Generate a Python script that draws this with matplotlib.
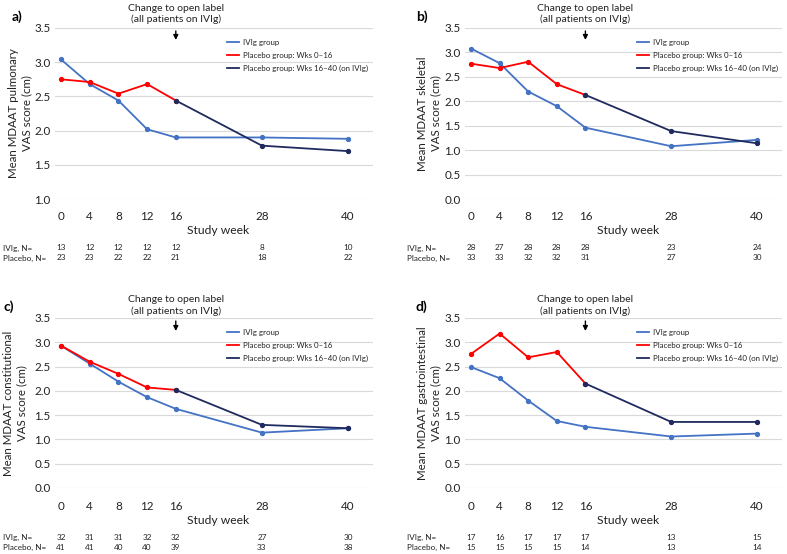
import matplotlib
matplotlib.use("Agg")
import matplotlib.pyplot as plt

plt.rcParams['font.family'] = ['Lato', 'DejaVu Sans']

weeks = [0, 4, 8, 12, 16, 28, 40]
weeks_pbo = [0, 4, 8, 12, 16]
weeks_ol = [16, 28, 40]

# Panel a: pulmonary
a_ivig = [3.04, 2.68, 2.44, 2.02, 1.90, 1.90, 1.88]
a_pbo = [2.75, 2.71, 2.54, 2.68, 2.44]
a_ol = [2.44, 1.78, 1.70]
a_n_ivig = ["13", "12", "12", "12", "12", "8", "10"]
a_n_pbo = ["23", "23", "22", "22", "21", "18", "22"]

# Panel b: skeletal
b_ivig = [3.08, 2.78, 2.20, 1.90, 1.46, 1.08, 1.21]
b_pbo = [2.77, 2.68, 2.81, 2.35, 2.13]
b_ol = [2.13, 1.39, 1.14]
b_n_ivig = ["28", "27", "28", "28", "28", "23", "24"]
b_n_pbo = ["33", "33", "32", "32", "31", "27", "30"]

# Panel c: constitutional
c_ivig = [2.93, 2.56, 2.19, 1.87, 1.63, 1.14, 1.23]
c_pbo = [2.93, 2.60, 2.35, 2.07, 2.02]
c_ol = [2.02, 1.30, 1.23]
c_n_ivig = ["32", "31", "31", "32", "32", "27", "30"]
c_n_pbo = ["41", "41", "40", "40", "39", "33", "38"]

# Panel d: gastrointestinal
d_ivig = [2.49, 2.26, 1.80, 1.38, 1.26, 1.06, 1.12]
d_pbo = [2.76, 3.18, 2.69, 2.80, 2.15]
d_ol = [2.15, 1.36, 1.36]
d_n_ivig = ["17", "16", "17", "17", "17", "13", "15"]
d_n_pbo = ["15", "15", "15", "15", "14", "13", "14"]

legend_labels = ["IVIg group", "Placebo group: Wks 0\u201316",
                 "Placebo group: Wks 16\u201340 (on IVIg)"]
ylabels = ["Mean MDAAT pulmonary\nVAS score (cm)",
           "Mean MDAAT skeletal\nVAS score (cm)",
           "Mean MDAAT constitutional\nVAS score (cm)",
           "Mean MDAAT gastrointestinal\nVAS score (cm)"]
panel_letters = ["a)", "b)", "c)", "d)"]

C_IVIG = "#4472C4"
C_PBO = "#FF0000"
C_OL = "#1F2A5E"
TXT = "#222222"

W, H = 787, 554
fig = plt.figure(figsize=(W / 100, H / 100), dpi=100)

XMIN, XMAX = -0.9, 43.5

def fx(px):
    return px / W

def fy(py):
    return 1 - py / H

panels = [
    dict(ivig=a_ivig, pbo=a_pbo, ol=a_ol, nivig=a_n_ivig, npbo=a_n_pbo,
         x0=61, x40=348, ytop=28, ybot=199, ymin=1.0, ylab_x=20, letter=(12, 17),
         nlab_x=3, n_y=(248, 258), leg=(227, 39), title_y=(7, 21), arrow=(31, 40),
         xlab=(218, 230)),
    dict(ivig=b_ivig, pbo=b_pbo, ol=b_ol, nivig=b_n_ivig, npbo=b_n_pbo,
         x0=471, x40=757, ytop=28, ybot=199, ymin=0.0, ylab_x=429, letter=(416, 17),
         nlab_x=407, n_y=(248, 258), leg=(637, 39), title_y=(7, 21), arrow=(31, 40),
         xlab=(628, 230)),
    dict(ivig=c_ivig, pbo=c_pbo, ol=c_ol, nivig=c_n_ivig, npbo=c_n_pbo,
         x0=61, x40=348, ytop=318, ybot=488, ymin=0.0, ylab_x=15, letter=(3, 307),
         nlab_x=3, n_y=(537, 547), leg=(227, 329), title_y=(298, 313), arrow=(321, 331),
         xlab=(218, 520)),
    dict(ivig=d_ivig, pbo=d_pbo, ol=d_ol, nivig=d_n_ivig, npbo=d_n_pbo,
         x0=471, x40=757, ytop=318, ybot=488, ymin=0.0, ylab_x=429, letter=(416, 307),
         nlab_x=407, n_y=(537, 547), leg=(637, 329), title_y=(298, 313), arrow=(321, 331),
         xlab=(628, 520)),
]

for i, p in enumerate(panels):
    ppw = (p['x40'] - p['x0']) / 40.0
    left = p['x0'] + XMIN * ppw
    right = p['x0'] + XMAX * ppw
    ax = fig.add_axes([fx(left), fy(p['ybot']), (right - left) / W, (p['ybot'] - p['ytop']) / H])
    ax.set_xlim(XMIN, XMAX)
    ax.set_ylim(p['ymin'], 3.5)
    yt = [p['ymin'] + 0.5 * k for k in range(int(round((3.5 - p['ymin']) / 0.5)) + 1)]
    ax.set_yticks(yt)
    ax.set_yticklabels([f"{v:.1f}" for v in yt])
    ax.set_xticks(weeks)
    ax.set_xticklabels([str(w) for w in weeks])
    for s in ax.spines.values():
        s.set_visible(False)
    ax.tick_params(axis='both', length=0, labelsize=8.4, colors=TXT)
    ax.tick_params(axis='y', pad=3)
    ax.tick_params(axis='x', pad=9)
    ax.grid(axis='y', color='#D9D9D9', linewidth=0.8)
    ax.set_axisbelow(True)

    l1, = ax.plot(weeks, p['ivig'], color=C_IVIG, lw=1.3, marker='o', ms=2.8, clip_on=False)
    l2, = ax.plot(weeks_pbo, p['pbo'], color=C_PBO, lw=1.3, marker='o', ms=2.8, clip_on=False)
    l3, = ax.plot(weeks_ol, p['ol'], color=C_OL, lw=1.3, marker='o', ms=2.8, clip_on=False)

    # x label
    fig.text(fx(p['xlab'][0]), fy(p['xlab'][1]), "Study week", ha='center', va='center',
             fontsize=8.7, color=TXT)

    leg = fig.legend([l1, l2, l3], legend_labels, loc='upper left',
                     bbox_to_anchor=(fx(p['leg'][0]), fy(p['leg'][1])),
                     frameon=False, fontsize=5.7, handlelength=1.55, handletextpad=0.5,
                     labelspacing=0.75, borderpad=0, borderaxespad=0)
    for h in leg.legend_handles:
        h.set_marker('')
        h.set_linewidth(1.3)
    for t in leg.get_texts():
        t.set_color(TXT)

    # y label
    fig.text(fx(p['ylab_x']), fy((p['ytop'] + p['ybot']) / 2), ylabels[i], rotation=90,
             ha='center', va='center', fontsize=8.3, linespacing=1.25, color=TXT)
    # panel letter
    fig.text(fx(p['letter'][0]), fy(p['letter'][1]), panel_letters[i], ha='left', va='center',
             fontsize=10, fontweight='bold')
    # open-label annotation
    ty = (p['title_y'][0] + p['title_y'][1]) / 2
    ax.annotate("Change to open label\n(all patients on IVIg)", xy=(16, 0),
                xycoords=('data', 'axes fraction'),
                xytext=(p['x0'] + 16 * ppw, H - ty), textcoords='figure pixels',
                ha='center', va='center', fontsize=7.5, linespacing=1.25, color=TXT)
    ax.annotate("", xy=(p['x0'] + 16 * ppw, H - p['arrow'][1]), xycoords='figure pixels',
                xytext=(p['x0'] + 16 * ppw, H - p['arrow'][0]), textcoords='figure pixels',
                arrowprops=dict(arrowstyle='-|>', color='black', lw=1.0,
                                mutation_scale=7, shrinkA=0, shrinkB=0))
    # N rows
    fs_n = 5.9
    fig.text(fx(p['nlab_x']), fy(p['n_y'][0]), "IVIg, N=", ha='left', va='center', fontsize=fs_n, color=TXT)
    fig.text(fx(p['nlab_x']), fy(p['n_y'][1]), "Placebo, N=", ha='left', va='center', fontsize=fs_n, color=TXT)
    for w, n1, n2 in zip(weeks, p['nivig'], p['npbo']):
        ax.annotate(n1, xy=(w, 0), xycoords=('data', 'axes fraction'),
                    xytext=(p['x0'] + w * ppw, H - p['n_y'][0]), textcoords='figure pixels',
                    ha='center', va='center', fontsize=fs_n, color=TXT)
        ax.annotate(n2, xy=(w, 0), xycoords=('data', 'axes fraction'),
                    xytext=(p['x0'] + w * ppw, H - p['n_y'][1]), textcoords='figure pixels',
                    ha='center', va='center', fontsize=fs_n, color=TXT)

fig.savefig("out.png", dpi=100)
